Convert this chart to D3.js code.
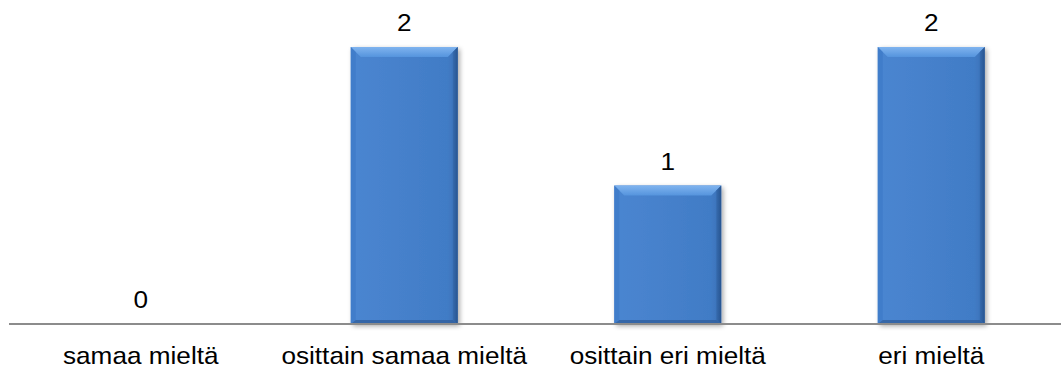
<!DOCTYPE html>
<html>
<head>
<meta charset="utf-8">
<script src="https://cdn.jsdelivr.net/npm/d3@7"></script>
<style>
  html, body { margin: 0; padding: 0; background: #fff; }
  svg { display: block; }
  text { font-family: "Liberation Sans", Arial, sans-serif; fill: #000; }
</style>
</head>
<body>
<svg id="chart" width="1061" height="369"></svg>
<script>
// Responses per answer option
const categories = ["samaa mieltä", "osittain samaa mieltä", "osittain eri mieltä", "eri mieltä"];
const counts = [0, 2, 1, 2];

const W = 1061, H = 369;
const margin = { left: 9, right: -2, top: 47, bottom: 45 };
const fontSize = 24;
const textStretch = 1.09; // slightly wide lettering
const svg = d3.select("#chart");

const x = d3.scaleBand()
  .domain(categories)
  .range([margin.left, W - margin.right])
  .paddingInner(0.594)
  .paddingOuter(0.297);

const y = d3.scaleLinear()
  .domain([0, 2])
  .range([H - margin.bottom, margin.top]);

const defs = svg.append("defs");

const bodyGrad = defs.append("linearGradient").attr("id", "barBody")
  .attr("x1", 0).attr("x2", 1).attr("y1", 0).attr("y2", 0);
bodyGrad.append("stop").attr("offset", "0").attr("stop-color", "#4a86d2");
bodyGrad.append("stop").attr("offset", "0.06").attr("stop-color", "#4a85d0");
bodyGrad.append("stop").attr("offset", "0.9").attr("stop-color", "#417cc6");
bodyGrad.append("stop").attr("offset", "1").attr("stop-color", "#3a70b6");

const topGrad = defs.append("linearGradient").attr("id", "barTop")
  .attr("x1", 0).attr("x2", 0).attr("y1", 0).attr("y2", 1);
topGrad.append("stop").attr("offset", "0").attr("stop-color", "#80b4ef");
topGrad.append("stop").attr("offset", "1").attr("stop-color", "#5594dd");

const sideGrad = defs.append("linearGradient").attr("id", "barSide")
  .attr("x1", 0).attr("x2", 1).attr("y1", 0).attr("y2", 0);
sideGrad.append("stop").attr("offset", "0").attr("stop-color", "#3569ac");
sideGrad.append("stop").attr("offset", "1").attr("stop-color", "#24508a");

const shadow = defs.append("filter").attr("id", "shadow")
  .attr("x", "-20%").attr("y", "-20%").attr("width", "140%").attr("height", "140%");
shadow.append("feGaussianBlur").attr("in", "SourceAlpha").attr("stdDeviation", 2.5).attr("result", "b");
shadow.append("feOffset").attr("in", "b").attr("dx", 2).attr("dy", 2).attr("result", "o");
shadow.append("feComponentTransfer").attr("in", "o").attr("result", "s")
  .append("feFuncA").attr("type", "linear").attr("slope", 0.35);
const merge = shadow.append("feMerge");
merge.append("feMergeNode").attr("in", "s");
merge.append("feMergeNode").attr("in", "SourceGraphic");

const data = categories.map((c, i) => ({ cat: c, value: counts[i] }));
const bev = 10;

const bars = svg.append("g").selectAll("g.bar")
  .data(data.filter(d => d.value > 0))
  .join("g").attr("class", "bar");

bars.each(function (d) {
  const g = d3.select(this);
  const x0 = x(d.cat), bw = x.bandwidth();
  const y0 = y(d.value), y1 = y(0);
  const x1 = x0 + bw;
  g.append("rect")
    .attr("x", x0).attr("y", y0).attr("width", bw).attr("height", y1 - y0)
    .attr("fill", "url(#barBody)").attr("filter", "url(#shadow)");
  // top bevel
  g.append("path")
    .attr("d", `M${x0},${y0}L${x1},${y0}L${x1 - bev},${y0 + bev}L${x0 + bev},${y0 + bev}Z`)
    .attr("fill", "url(#barTop)");
  // right bevel
  g.append("path")
    .attr("d", `M${x1},${y0}L${x1},${y1}L${x1 - 5},${y1 - 4}L${x1 - 5},${y0 + 5}Z`)
    .attr("fill", "url(#barSide)").attr("opacity", 0.85);
  // left bevel
  g.append("path")
    .attr("d", `M${x0},${y0}L${x0 + 5},${y0 + 5}L${x0 + 5},${y1 - 4}L${x0},${y1}Z`)
    .attr("fill", "#3f7bc8").attr("opacity", 0.8);
  // bottom bevel
  g.append("path")
    .attr("d", `M${x0},${y1}L${x1},${y1}L${x1 - 5},${y1 - 4}L${x0 + 5},${y1 - 4}Z`)
    .attr("fill", "#315f9e").attr("opacity", 0.8);
});

// baseline axis
svg.append("g")
  .attr("transform", `translate(0,${y(0)})`)
  .call(d3.axisBottom(x).tickSize(0).tickPadding(23))
  .call(g => g.select(".domain").attr("stroke", "#8c8c8c").attr("stroke-width", 2)
    .attr("d", `M${margin.left},0H${W}`))
  .call(g => g.selectAll("text")
    .attr("font-family", "Liberation Sans, Arial, sans-serif")
    .attr("font-size", fontSize).attr("fill", "#000")
    .attr("transform", `scale(${textStretch},1)`));

// value labels
svg.append("g").selectAll("text")
  .data(data)
  .join("text")
  .attr("transform", d =>
    `translate(${x(d.cat) + x.bandwidth() / 2},${y(d.value) - 16}) scale(${textStretch},1)`)
  .attr("text-anchor", "middle")
  .attr("font-size", fontSize)
  .text(d => d.value);
</script>
</body>
</html>
